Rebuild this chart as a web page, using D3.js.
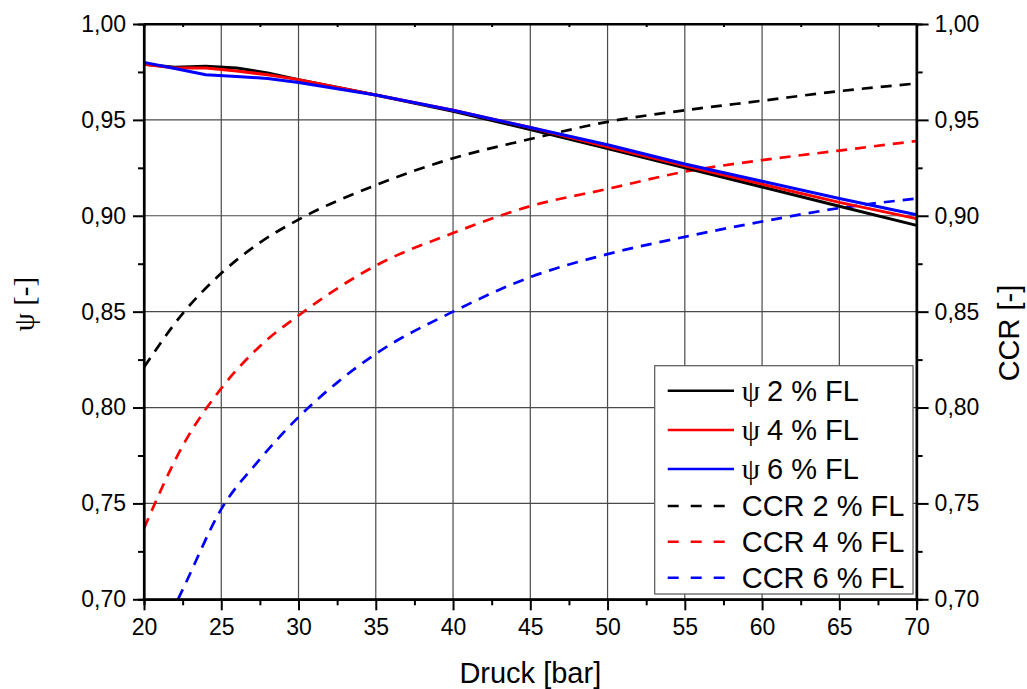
<!DOCTYPE html>
<html>
<head>
<meta charset="utf-8">
<script src="https://cdn.jsdelivr.net/npm/d3@7"></script>
<style>
  html, body { margin: 0; padding: 0; background: #fff; }
  svg { display: block; }
  text { font-family: "Liberation Sans", Arial, sans-serif; fill: #000; }
  .serif { font-family: "Liberation Serif", "Times New Roman", serif; }
</style>
</head>
<body>
<script>
// ---------- data ----------
const psiX   = [20, 22, 24, 26, 28, 30, 35, 40, 45, 50, 55, 60, 65, 70];
const psi2   = [0.979, 0.9775, 0.978, 0.977, 0.9745, 0.971, 0.963, 0.9545, 0.945, 0.935, 0.925, 0.915, 0.905, 0.895];
const psi4   = [0.979, 0.977, 0.977, 0.9755, 0.9735, 0.971, 0.963, 0.955, 0.946, 0.936, 0.926, 0.9165, 0.907, 0.8985];
const psi6   = [0.980, 0.9768, 0.9735, 0.9726, 0.9716, 0.9695, 0.963, 0.955, 0.946, 0.937, 0.927, 0.918, 0.909, 0.9005];

const ccrX   = [20, 22.5, 25, 27.5, 30, 35, 40, 45, 50, 55, 60, 65, 70];
const ccr2   = [0.821, 0.849, 0.870, 0.886, 0.898, 0.916, 0.930, 0.940, 0.949, 0.955, 0.960, 0.965, 0.969];
const ccr4   = [0.737, 0.780, 0.810, 0.832, 0.848, 0.874, 0.891, 0.905, 0.914, 0.923, 0.929, 0.934, 0.939];
const ccr6X  = [22.2, 22.5, 25, 27.5, 30, 32.5, 35, 40, 45, 50, 55, 60, 65, 70];
const ccr6   = [0.700, 0.705, 0.747, 0.773, 0.795, 0.813, 0.828, 0.850, 0.868, 0.880, 0.889, 0.897, 0.904, 0.909];

const xTicks = [20, 25, 30, 35, 40, 45, 50, 55, 60, 65, 70];
const yTicks = [0.70, 0.75, 0.80, 0.85, 0.90, 0.95, 1.00];
const legendLabels = [
  { psi: true,  text: "2 % FL",     color: "#000000", dashed: false },
  { psi: true,  text: "4 % FL",     color: "#ff0000", dashed: false },
  { psi: true,  text: "6 % FL",     color: "#0000ff", dashed: false },
  { psi: false, text: "CCR 2 % FL", color: "#000000", dashed: true },
  { psi: false, text: "CCR 4 % FL", color: "#ff0000", dashed: true },
  { psi: false, text: "CCR 6 % FL", color: "#0000ff", dashed: true }
];

// ---------- layout ----------
const W = 1027, H = 689;
const L = 144, R = 916.6, T = 24, B = 599.3;

const svg = d3.select("body").append("svg").attr("width", W).attr("height", H);

const x = d3.scaleLinear().domain([20, 70]).range([L, R]);
const y = d3.scaleLinear().domain([0.70, 1.00]).range([B, T]);
const y2 = d3.scaleLinear().domain([0.70, 1.00]).range([B, T]);

const fmt = d => d3.format(".2f")(d).replace(".", ",");
const minorX = d3.range(22.5, 70, 5);
const minorY = d3.range(0.725, 1.0, 0.05);

// grid
const grid = svg.append("g");
grid.selectAll("line.vx").data(xTicks.slice(1, -1)).join("line")
  .attr("x1", d => x(d)).attr("x2", d => x(d)).attr("y1", T).attr("y2", B)
  .attr("stroke", "#4a4a4a").attr("stroke-width", 1.2);
grid.selectAll("line.hy").data(yTicks.slice(1, -1)).join("line")
  .attr("x1", L).attr("x2", R).attr("y1", d => y(d)).attr("y2", d => y(d))
  .attr("stroke", "#4a4a4a").attr("stroke-width", 1.2);

// lines
const lineGen = d3.line().x(d => x(d[0])).y(d => y(d[1]));
const curveGen = d3.line().x(d => x(d[0])).y(d => y2(d[1])).curve(d3.curveMonotoneX);
const zip = (a, b) => a.map((v, i) => [v, b[i]]);

const plot = svg.append("g");
[[ccrX, ccr2, "#000000"], [ccrX, ccr4, "#ff0000"], [ccr6X, ccr6, "#0000ff"]].forEach(([xs, ys, c]) => {
  plot.append("path").datum(zip(xs, ys)).attr("d", curveGen)
    .attr("fill", "none").attr("stroke", c).attr("stroke-width", 2.7)
    .attr("stroke-dasharray", "11,8");
});
[[psi2, "#000000"], [psi4, "#ff0000"], [psi6, "#0000ff"]].forEach(([ys, c]) => {
  plot.append("path").datum(zip(psiX, ys)).attr("d", lineGen)
    .attr("fill", "none").attr("stroke", c).attr("stroke-width", 3)
    .attr("stroke-linejoin", "round");
});

// axes
const axB = svg.append("g").attr("transform", `translate(0,${B})`)
  .call(d3.axisBottom(x).tickValues(xTicks).tickSize(11).tickPadding(8).tickFormat(d3.format("d")));
const axL = svg.append("g").attr("transform", `translate(${L},0)`)
  .call(d3.axisLeft(y).tickValues(yTicks).tickSize(11).tickPadding(7).tickFormat(fmt));
const axR = svg.append("g").attr("transform", `translate(${R},0)`)
  .call(d3.axisRight(y2).tickValues(yTicks).tickSize(12).tickPadding(6).tickFormat(fmt));
const axT = svg.append("g").attr("transform", `translate(0,${T})`)
  .call(d3.axisTop(x).tickValues([]).tickSize(0));

// minor ticks
svg.append("g").attr("transform", `translate(0,${B})`)
  .call(d3.axisBottom(x).tickValues(minorX).tickSize(6).tickFormat(""));
svg.append("g").attr("transform", `translate(${L},0)`)
  .call(d3.axisLeft(y).tickValues(minorY).tickSize(6).tickFormat(""));
svg.append("g").attr("transform", `translate(${R},0)`)
  .call(d3.axisRight(y2).tickValues(minorY).tickSize(6).tickFormat(""));
svg.append("g").attr("transform", `translate(0,${T})`)
  .call(d3.axisBottom(x).tickValues(minorX).tickSize(3).tickFormat(""));

svg.selectAll(".domain").attr("stroke", "#000").attr("stroke-width", 2.2);
svg.selectAll(".tick line").attr("stroke", "#000").attr("stroke-width", 2);
svg.selectAll(".tick text").attr("font-size", 23).attr("font-family", "Liberation Sans, Arial, sans-serif").attr("fill", "#000");
axL.selectAll(".domain").attr("d", `M-0,${B}V${T}`);
axR.selectAll(".domain").attr("d", `M0,${B}V${T}`);
axB.selectAll(".domain").attr("d", `M${L},0H${R}`);
axT.selectAll(".domain").attr("d", `M${L},0H${R}`);

// axis titles
svg.append("text").attr("x", (L + R) / 2).attr("y", 683).attr("text-anchor", "middle")
  .attr("font-size", 29).text("Druck [bar]");
svg.append("text").attr("class", "serif")
  .attr("transform", "translate(24,304) rotate(-90)").attr("text-anchor", "middle")
  .attr("dominant-baseline", "central").attr("font-size", 29).text("ψ [-]");
svg.append("text")
  .attr("transform", "translate(1009,333) rotate(-90)").attr("text-anchor", "middle")
  .attr("dominant-baseline", "central").attr("font-size", 29).text("CCR [-]");

// legend
const lg = svg.append("g");
lg.append("rect").attr("x", 654.7).attr("y", 365.7).attr("width", 258.3).attr("height", 228.3)
  .attr("fill", "#fff").attr("stroke", "#555").attr("stroke-width", 1.2);
const rowY = [390.7, 430, 469, 506, 541.7, 577.7];
legendLabels.forEach((d, i) => {
  lg.append("line").attr("x1", 667.7).attr("x2", 734).attr("y1", rowY[i]).attr("y2", rowY[i])
    .attr("stroke", d.color).attr("stroke-width", 2.6)
    .attr("stroke-dasharray", d.dashed ? "11,12" : null);
  const t = lg.append("text").attr("x", 741.7).attr("y", rowY[i]).attr("dominant-baseline", "central")
    .attr("font-size", 29);
  if (d.psi) {
    t.append("tspan").attr("class", "serif").text("ψ ");
    t.append("tspan").text(d.text);
  } else {
    t.text(d.text);
  }
});
</script>
</body>
</html>
